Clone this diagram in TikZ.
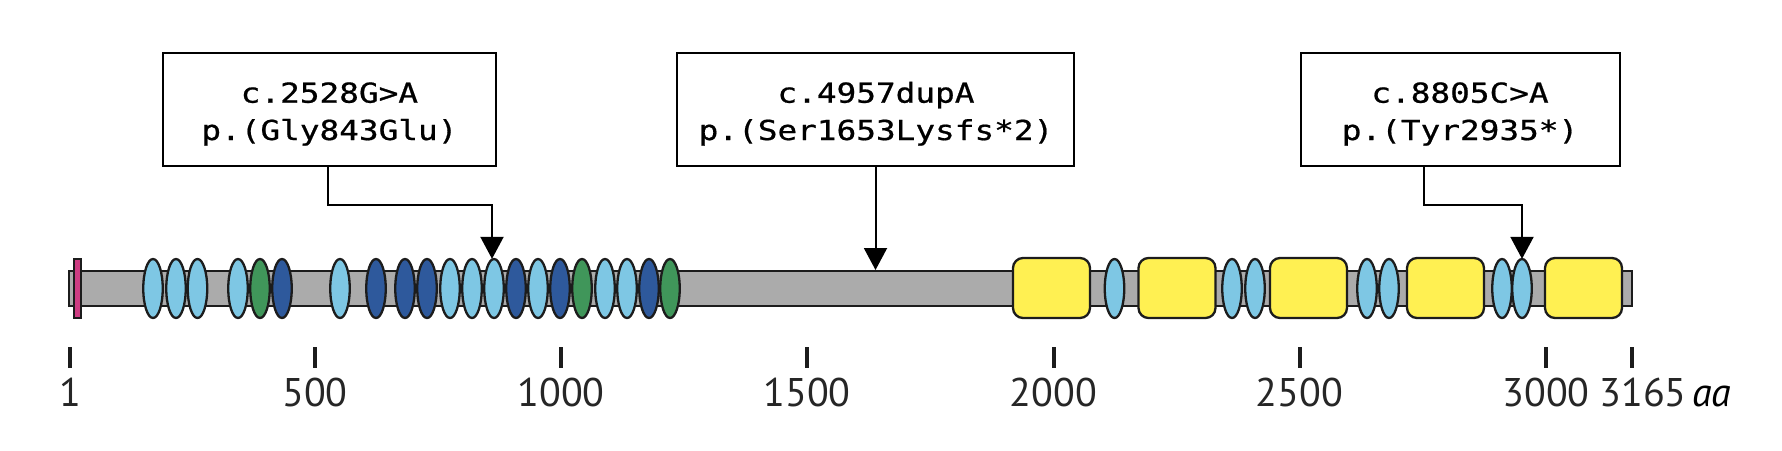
\documentclass[tikz,border=0pt]{standalone}
\usepackage{fontspec}
\usetikzlibrary{shapes.geometric,arrows.meta}
\newfontfamily\monofont[FakeStretch=1.19,FakeBold=0.7]{DejaVu Sans Mono}
\newfontfamily\axisfont{PT Sans}
\definecolor{lblue}{RGB}{126,199,228}
\definecolor{dblue}{RGB}{46,89,156}
\definecolor{dgreen}{RGB}{64,150,90}
\definecolor{magen}{RGB}{206,60,130}
\definecolor{yel}{RGB}{255,240,82}
\definecolor{bargrey}{RGB}{171,171,171}
\definecolor{outl}{RGB}{28,28,28}
\definecolor{labc}{RGB}{38,38,38}
\begin{document}
\begin{tikzpicture}[x=1pt,y=-1pt,
  mbox/.style={draw=black,line width=2pt,fill=white,inner sep=0pt,minimum height=113pt},
  mtext/.style={font=\monofont\fontsize{27.5}{33}\selectfont,inner sep=0pt,anchor=base},
  ell/.style={ellipse,draw=outl,line width=2.3pt,minimum width=19.5pt,minimum height=59pt,inner sep=0pt},
  lb/.style={ell,fill=lblue},
  db/.style={ell,fill=dblue},
  gr/.style={ell,fill=dgreen},
  ybox/.style={rectangle,draw=outl,line width=2.3pt,fill=yel,rounded corners=10pt,minimum height=60pt,minimum width=77pt,inner sep=0pt},
  bar/.style={rectangle,draw=outl,line width=2pt,fill=bargrey,inner sep=0pt},
  conn/.style={line width=2pt,-{Triangle[width=23pt,length=22pt]}},
  tickmark/.style={line width=4pt,draw=outl},
  axlab/.style={font=\axisfont\fontsize{40}{40}\selectfont,text=labc,inner sep=0pt,anchor=base}
]
\useasboundingbox (0,0) rectangle (1782,450);

% protein bar
\node[bar,minimum width=1563pt,minimum height=35pt] (bar) at (850.5,288.5) {};
\node[rectangle,draw=outl,line width=2pt,fill=magen,minimum width=7.6pt,minimum height=59pt,inner sep=0pt] (sig) at (77.5,288.5) {};

% domains
\node[lb] (e1) at (153,288.5) {};
\node[lb] (e2) at (176,288.5) {};
\node[lb] (e3) at (197.5,288.5) {};
\node[lb] (e4) at (238,288.5) {};
\node[gr] (e5) at (260,288.5) {};
\node[db] (e6) at (282,288.5) {};
\node[lb] (e7) at (340,288.5) {};
\node[db] (e8) at (376,288.5) {};
\node[db] (e9) at (405,288.5) {};
\node[db] (e10) at (427,288.5) {};
\node[lb] (e11) at (450,288.5) {};
\node[lb] (e12) at (472,288.5) {};
\node[lb] (e13) at (494,288.5) {};
\node[db] (e14) at (516,288.5) {};
\node[lb] (e15) at (538,288.5) {};
\node[db] (e16) at (560,288.5) {};
\node[gr] (e17) at (582,288.5) {};
\node[lb] (e18) at (605,288.5) {};
\node[lb] (e19) at (627,288.5) {};
\node[db] (e20) at (649,288.5) {};
\node[gr] (e21) at (670,288.5) {};

\node[ybox] (y1) at (1051.5,288) {};
\node[lb] (e22) at (1114.5,288.5) {};
\node[ybox] (y2) at (1177,288) {};
\node[lb] (e23) at (1232,288.5) {};
\node[lb] (e24) at (1255,288.5) {};
\node[ybox] (y3) at (1308.5,288) {};
\node[lb] (e25) at (1367,288.5) {};
\node[lb] (e26) at (1389,288.5) {};
\node[ybox] (y4) at (1445.5,288) {};
\node[lb] (e27) at (1502,288.5) {};
\node[lb] (e28) at (1522,288.5) {};
\node[ybox] (y5) at (1583.5,288) {};

% mutation boxes
\node[mbox,minimum width=333pt] (box1) at (329.4,109.2) {};
\node[mtext] (t1a) at (329.4,102.7) {c.2528G>A};
\node[mtext] (t1b) at (329.4,140) {p.(Gly843Glu)};

\node[mbox,minimum width=397pt] (box2) at (875.5,109.2) {};
\node[mtext] (t2a) at (876,102.7) {c.4957dupA};
\node[mtext] (t2b) at (876,140) {p.(Ser1653Lysfs*2)};

\node[mbox,minimum width=319pt] (box3) at (1460.5,109.2) {};
\node[mtext] (t3a) at (1460,102.7) {c.8805C>A};
\node[mtext] (t3b) at (1460,140) {p.(Tyr2935*)};

\coordinate (c1) at ([xshift=-1.7pt]box1.south);
\coordinate (c3) at ([xshift=-37pt]box3.south);
\draw[conn] (c1) -- ++(0,38.3) -| ([xshift=-2pt,yshift=-1pt]e13.north);
\draw[conn] (box2.south) -- (box2.south |- bar.north);
\draw[conn] (c3) -- ++(0,38.3) -| ([yshift=-1pt]e28.north);

% axis ticks
\foreach \x/\n in {70/k1,315/k2,561/k3,807/k4,1053.5/k5,1299.5/k6,1546/k7,1632/k8}{
  \coordinate (\n a) at (\x,347);
  \coordinate (\n b) at (\x,368);
  \draw[tickmark] (\n a) -- (\n b);
}
\node[axlab] (l1) at (70,406) {1};
\node[axlab] (l2) at (315,406) {500};
\node[axlab] (l3) at (561,406) {1000};
\node[axlab] (l4) at (807,406) {1500};
\node[axlab] (l5) at (1053.5,406) {2000};
\node[axlab] (l6) at (1299.5,406) {2500};
\node[axlab] (l7) at (1546,406) {3000};
\node[axlab] (l8) at (1643,406) {3165};
\node[axlab,anchor=base west,text=black] (laa) at (1692,406) {\itshape aa};
\end{tikzpicture}
\end{document}
